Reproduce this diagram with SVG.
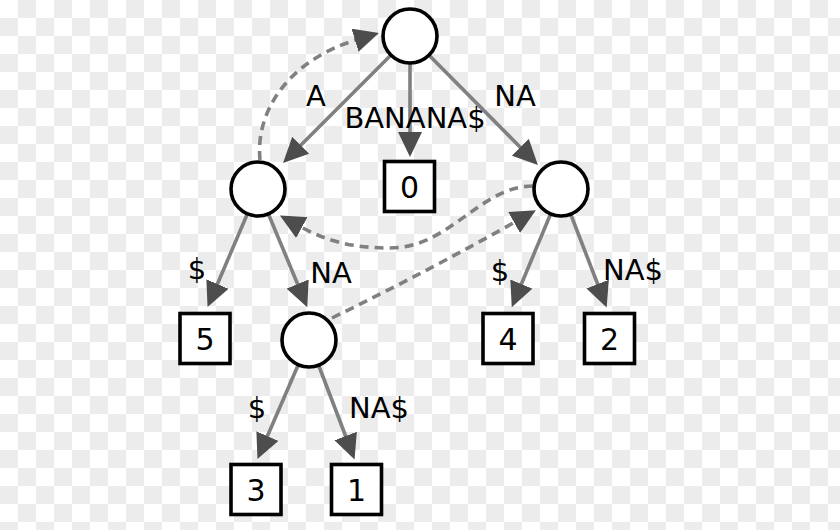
<svg xmlns="http://www.w3.org/2000/svg" width="840" height="530" viewBox="0 0 840 530">
<style>
.node{fill:#fff;stroke:#000;stroke-width:3.6}
.edge{fill:none;stroke:#808080;stroke-width:3.6}
.link{fill:none;stroke:#808080;stroke-width:3.6;stroke-dasharray:9,6}
.lbl{font-family:"DejaVu Sans",sans-serif;font-size:29px;fill:#000;text-anchor:middle}
.num{font-family:"DejaVu Sans",sans-serif;font-size:30px;fill:#000;text-anchor:middle}
</style>
<defs>
<pattern id="cb" width="36" height="36" patternUnits="userSpaceOnUse">
<rect width="36" height="36" fill="#fff"/>
<rect x="18" y="0" width="18" height="18" fill="#ececec"/>
<rect x="0" y="18" width="18" height="18" fill="#ececec"/>
</pattern>
<marker id="ah" markerUnits="userSpaceOnUse" markerWidth="26" markerHeight="24" refX="1" refY="12" orient="auto" viewBox="0 0 26 24">
<path d="M0,0 L25,12 L0,24 z" fill="#4d4d4d"/>
</marker>
</defs>
<rect width="840" height="530" fill="url(#cb)"/>
<g id="connectors">
<line class="edge" x1="410" y1="36" x2="300" y2="146" marker-end="url(#ah)"/>
<line class="edge" x1="410" y1="36" x2="410" y2="133" marker-end="url(#ah)"/>
<line class="edge" x1="410" y1="36" x2="521" y2="148" marker-end="url(#ah)"/>
<line class="edge" x1="258" y1="189" x2="217" y2="285" marker-end="url(#ah)"/>
<line class="edge" x1="258" y1="189" x2="298" y2="285" marker-end="url(#ah)"/>
<line class="edge" x1="561" y1="189" x2="521" y2="285" marker-end="url(#ah)"/>
<line class="edge" x1="561" y1="189" x2="598" y2="285" marker-end="url(#ah)"/>
<line class="edge" x1="309" y1="340" x2="267" y2="437" marker-end="url(#ah)"/>
<line class="edge" x1="309" y1="340" x2="346" y2="437" marker-end="url(#ah)"/>
<path class="link" d="M260,160 C255,110 290,60 356,40" marker-end="url(#ah)"/>
<path class="link" d="M533,186 C480,186 450,248 390,248 C350,248 325,240 301,227" marker-end="url(#ah)"/>
<path class="link" d="M332,318 Q430,270 515,222" marker-end="url(#ah)"/>
</g>
<g id="edge-labels">
<text class="lbl" x="316" y="106">A</text>
<text class="lbl" x="415" y="128">BANANA$</text>
<text class="lbl" x="515" y="106">NA</text>
<text class="lbl" x="197" y="279">$</text>
<text class="lbl" x="331" y="283">NA</text>
<text class="lbl" x="500" y="281">$</text>
<text class="lbl" x="633" y="280">NA$</text>
<text class="lbl" x="257" y="418">$</text>
<text class="lbl" x="379" y="418">NA$</text>
</g>
<g id="n-root"><circle class="node" cx="410" cy="36" r="27"/></g>
<g id="n-A"><circle class="node" cx="258" cy="189" r="27"/></g>
<g id="n-NA"><circle class="node" cx="561" cy="189" r="27"/></g>
<g id="n-ANA"><circle class="node" cx="309" cy="340" r="27"/></g>
<g id="leaf-0"><rect class="node" x="384.5" y="161.5" width="50" height="50"/><text class="num" x="409.5" y="197.5">0</text></g>
<g id="leaf-5"><rect class="node" x="180" y="313.5" width="50" height="50"/><text class="num" x="205" y="349.5">5</text></g>
<g id="leaf-4"><rect class="node" x="483" y="313.5" width="50" height="50"/><text class="num" x="508" y="349.5">4</text></g>
<g id="leaf-2"><rect class="node" x="584.5" y="313.5" width="50" height="50"/><text class="num" x="609.5" y="349.5">2</text></g>
<g id="leaf-3"><rect class="node" x="231" y="464.5" width="50" height="50"/><text class="num" x="256" y="500.5">3</text></g>
<g id="leaf-1"><rect class="node" x="331.5" y="464.5" width="50" height="50"/><text class="num" x="356.5" y="500.5">1</text></g>
</svg>
